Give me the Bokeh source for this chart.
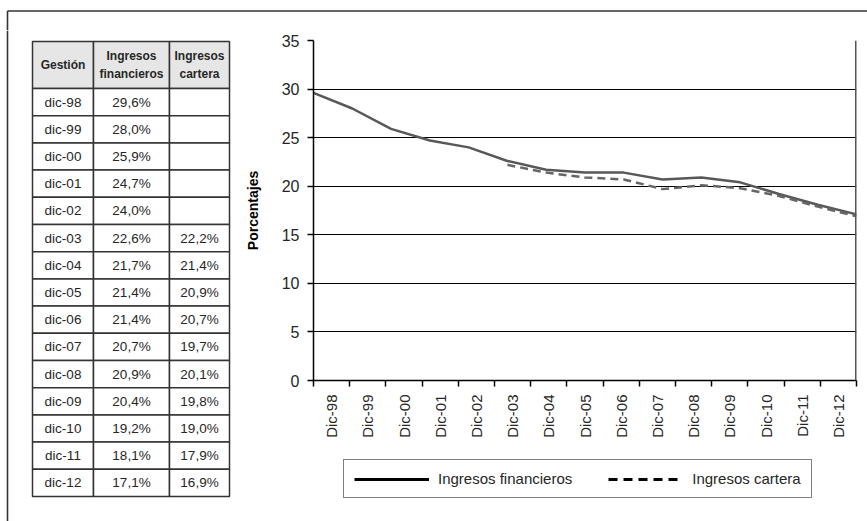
import math

from bokeh.core.properties import value
from bokeh.embed import file_html
from bokeh.layouts import column, row
from bokeh.models import ColumnDataSource, FixedTicker, Legend, LegendItem, Range1d, Span
from bokeh.plotting import figure
from bokeh.resources import INLINE

# ---- data -------------------------------------------------------------
gestion = ["dic-98", "dic-99", "dic-00", "dic-01", "dic-02", "dic-03", "dic-04",
           "dic-05", "dic-06", "dic-07", "dic-08", "dic-09", "dic-10", "dic-11", "dic-12"]
ingresos_financieros = [29.6, 28.0, 25.9, 24.7, 24.0, 22.6, 21.7, 21.4, 21.4,
                        20.7, 20.9, 20.4, 19.2, 18.1, 17.1]
ingresos_cartera = [None, None, None, None, None, 22.2, 21.4, 20.9, 20.7,
                    19.7, 20.1, 19.8, 19.0, 17.9, 16.9]
y_ticks = [0, 5, 10, 15, 20, 25, 30, 35]
header = ["Gestión", "Ingresos\nfinancieros", "Ingresos\ncartera"]
series_names = ["Ingresos financieros", "Ingresos cartera"]

FONT = "Liberation Sans"
TEXT_COLOR = "#262626"
FRAME_COLOR = "#333333"


def pct(v):
    return "" if v is None else f"{v:.1f}%".replace(".", ",")


def blank(fig):
    fig.axis.visible = False
    fig.grid.visible = False
    fig.outline_line_color = None
    return fig


# ---- top strip: upper edge of the outer frame -------------------------
top = blank(figure(width=867, height=30, x_range=Range1d(0, 867), y_range=Range1d(30, 0),
                   output_backend="svg", toolbar_location=None, min_border=0))
top.segment(x0=[7, 7], y0=[10.5, 10.5], x1=[867, 7], y1=[10.5, 30],
            line_color=FRAME_COLOR, line_width=1.6)

# ---- data table -------------------------------------------------------
tab = blank(figure(width=240, height=491, x_range=Range1d(0, 240), y_range=Range1d(491, 0),
                   output_backend="svg", toolbar_location=None, min_border=0))
tab.segment(x0=[7], y0=[0], x1=[7], y1=[491], line_color=FRAME_COLOR, line_width=1.6)

col_edges = [32, 93, 169, 229]
head_top, head_h, row_h = 11, 47, 27.2
n_rows = len(gestion)

# header cells
tab.quad(left=col_edges[:-1], right=col_edges[1:],
         top=[head_top] * 3, bottom=[head_top + head_h] * 3,
         fill_color="#e6e6e6", line_color=FRAME_COLOR, line_width=1.5)
tab.text(x=[(a + b) / 2 for a, b in zip(col_edges[:-1], col_edges[1:])],
         y=[head_top + head_h / 2] * 3, text=header,
         text_align="center", text_baseline="middle", text_line_height=1.25,
         text_font=value(FONT), text_font_style="bold",
         text_font_size="12px", text_color=TEXT_COLOR)

# body cells
cell_left, cell_right, cell_top, cell_bottom = [], [], [], []
for i in range(n_rows):
    for c in range(3):
        cell_left.append(col_edges[c])
        cell_right.append(col_edges[c + 1])
        cell_top.append(head_top + head_h + i * row_h)
        cell_bottom.append(head_top + head_h + (i + 1) * row_h)
tab.quad(left=cell_left, right=cell_right, top=cell_top, bottom=cell_bottom,
         fill_color="white", line_color=FRAME_COLOR, line_width=1.5)

cell_x, cell_y, cell_txt = [], [], []
for i in range(n_rows):
    yc = head_top + head_h + (i + 0.5) * row_h
    for c, txt in enumerate([gestion[i], pct(ingresos_financieros[i]), pct(ingresos_cartera[i])]):
        cell_x.append((col_edges[c] + col_edges[c + 1]) / 2)
        cell_y.append(yc)
        cell_txt.append(txt)
tab.text(x=cell_x, y=cell_y, text=cell_txt, text_align="center", text_baseline="middle",
         text_font=value(FONT), text_font_size="13.5px", text_color=TEXT_COLOR)

# ---- line chart -------------------------------------------------------
n = len(gestion)
x_max = n  # category slots 0..n, labels in the middle of each slot
xs = [i * x_max / (n - 1) for i in range(n)]
centers = [k + 0.5 for k in range(n)]
bounds = list(range(n + 1))
x_labels = [g.capitalize() for g in gestion]

p = figure(width=627, height=420, x_range=Range1d(0, x_max), y_range=Range1d(0, 35),
           output_backend="svg", toolbar_location=None,
           min_border_left=73, min_border_right=11, min_border_top=10, min_border_bottom=70)
p.outline_line_color = None
p.background_fill_color = "white"

# x axis: labels centred on slots, tick marks on slot edges
p.xaxis.ticker = FixedTicker(ticks=centers, minor_ticks=bounds)
p.xaxis.major_label_overrides = {c: lab for c, lab in zip(centers, x_labels)}
p.xaxis.major_label_orientation = math.pi / 2
p.xaxis.major_tick_out = 0
p.xaxis.major_tick_in = 0
p.xaxis.minor_tick_out = 6
p.xaxis.minor_tick_in = 0
p.xaxis.minor_tick_line_color = "black"
p.xaxis.minor_tick_line_width = 1.5
p.xaxis.axis_line_color = "black"
p.xaxis.axis_line_width = 1.5
p.xaxis.major_label_standoff = 8
p.xaxis.major_label_text_font = FONT
p.xaxis.major_label_text_font_size = "15px"
p.xaxis.major_label_text_color = TEXT_COLOR

# y axis
p.yaxis.ticker = FixedTicker(ticks=y_ticks)
p.yaxis.major_tick_out = 6
p.yaxis.major_tick_in = 0
p.yaxis.minor_tick_out = 0
p.yaxis.minor_tick_in = 0
p.yaxis.major_tick_line_color = "black"
p.yaxis.major_tick_line_width = 1.5
p.yaxis.axis_line_color = "black"
p.yaxis.axis_line_width = 1.5
p.yaxis.major_label_standoff = 8
p.yaxis.major_label_text_font = FONT
p.yaxis.major_label_text_font_size = "16px"
p.yaxis.major_label_text_color = TEXT_COLOR
p.yaxis.axis_label = "Porcentajes"
p.yaxis.axis_label_text_font = FONT
p.yaxis.axis_label_text_font_style = "bold"
p.yaxis.axis_label_text_font_size = "14px"
p.yaxis.axis_label_text_color = "black"
p.yaxis.axis_label_standoff = 18

p.xgrid.visible = False
p.ygrid.ticker = FixedTicker(ticks=y_ticks)
p.ygrid.grid_line_color = "black"
p.ygrid.grid_line_width = 1

p.add_layout(Span(location=x_max, dimension="height", line_color="#555555", line_width=3))

src = ColumnDataSource(dict(
    x=xs,
    fin=ingresos_financieros,
    car=[float("nan") if v is None else v for v in ingresos_cartera],
))
p.line("x", "fin", source=src, line_color="#585858", line_width=2.5)
p.line("x", "car", source=src, line_color="#666666", line_width=2.5, line_dash="8 5")

# ---- legend strip under the chart --------------------------------------
leg = blank(figure(width=627, height=71, x_range=Range1d(0, 627), y_range=Range1d(0, 71),
                   output_backend="svg", toolbar_location=None, min_border=0))
# key lines sit outside the visible range; only their legend swatches show
k1 = leg.line(x=[-20, -10], y=[-20, -20], line_color="black", line_width=3)
k2 = leg.line(x=[-20, -10], y=[-20, -20], line_color="black", line_width=3, line_dash="9 6")
legend = Legend(items=[LegendItem(label=series_names[0], renderers=[k1]),
                       LegendItem(label=series_names[1], renderers=[k2])],
                orientation="horizontal", location=(30, 23),
                border_line_color="black", border_line_width=1.5,
                background_fill_color="white", background_fill_alpha=1,
                glyph_width=75, glyph_height=16, label_standoff=9, spacing=36,
                padding=10, margin=0,
                label_text_font=FONT, label_text_font_size="15px",
                label_text_color=TEXT_COLOR)
leg.add_layout(legend)

layout = column(top, row(column(tab), column(p, leg, spacing=0), spacing=0), spacing=0)

with open("out.html", "w") as f:
    f.write(file_html(layout, INLINE))
